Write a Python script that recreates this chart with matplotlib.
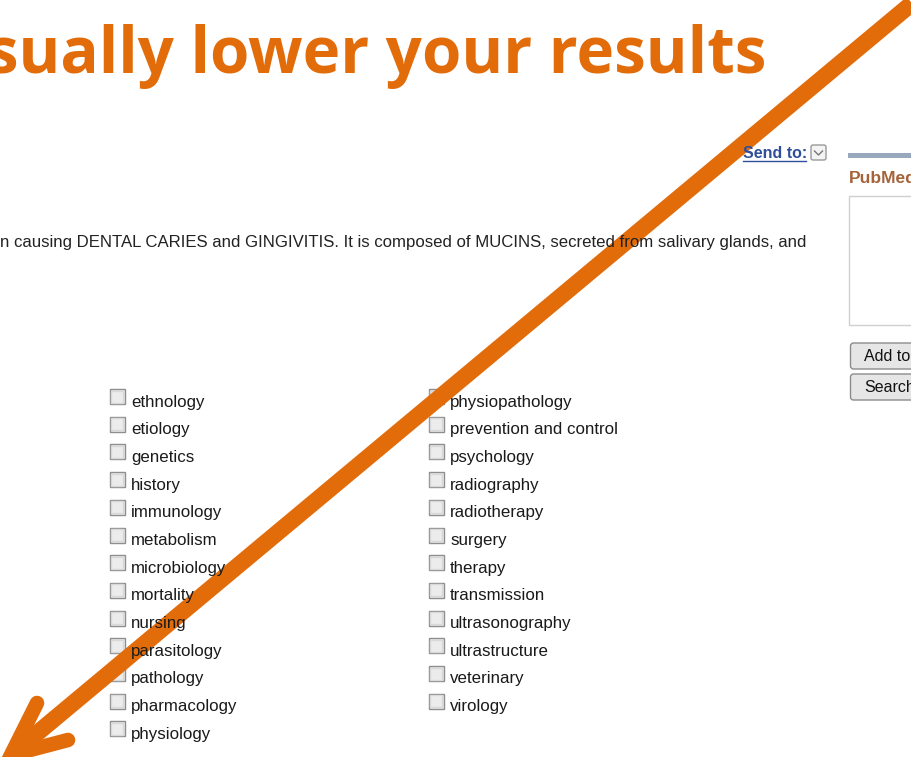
import matplotlib.pyplot as plt
from matplotlib.patches import Rectangle, FancyBboxPatch

title = "usually lower your results"
paragraph = ("n causing DENTAL CARIES and GINGIVITIS. It is composed of MUCINS, "
             "secreted from salivary glands, and")
left_terms = ["ethnology", "etiology", "genetics", "history", "immunology",
              "metabolism", "microbiology", "mortality", "nursing",
              "parasitology", "pathology", "pharmacology", "physiology"]
right_terms = ["physiopathology", "prevention and control", "psychology",
               "radiography", "radiotherapy", "surgery", "therapy",
               "transmission", "ultrasonography", "ultrastructure",
               "veterinary", "virology"]
buttons = ["Add to", "Search"]

orange = "#E36C0A"

fig = plt.figure(figsize=(9.12, 7.57), dpi=100)
ax = fig.add_axes([0, 0, 1, 1])
ax.set_xlim(0, 912)
ax.set_ylim(757, 0)
ax.axis("off")

# headline, first letter runs off the left edge
ax.text(766, 73, title, fontsize=45.8, fontweight="bold", family="Open Sans",
        color=orange, va="baseline", ha="right")

# Send to link
ax.text(743, 158, "Send to:", fontsize=11.5, fontweight="bold",
        family="Liberation Sans", color="#2F4F9A", va="baseline")
ax.plot([743, 806], [161, 161], color="#2F4F9A", lw=1)
ax.add_patch(FancyBboxPatch((811, 145), 15, 15, boxstyle="round,pad=0,rounding_size=2",
                            fc="#f4f4f4", ec="#9a9a9a", lw=1))
ax.plot([814.5, 818.5, 822.5], [151, 155, 151], color="#777777", lw=1)

# abstract line
ax.text(0, 247, paragraph, fontsize=12.1, family="Liberation Sans",
        color="#222222", va="baseline")

# right sidebar
ax.add_patch(Rectangle((848, 153), 70, 5, color="#98A9BD", lw=0))
ax.text(849, 183, "PubMed", fontsize=12.5, fontweight="bold",
        family="Liberation Sans", color="#A5633A", va="baseline")
ax.add_patch(Rectangle((849.5, 195.5), 80, 129, fc="white", ec="#d0d0d0", lw=1))
for i, b in enumerate(buttons):
    y0 = 343 + i * 31
    ax.add_patch(FancyBboxPatch((850.5, y0), 80, 26,
                                boxstyle="round,pad=0,rounding_size=3",
                                fc="#e6e6e6", ec="#8c8c8c", lw=1))
    ax.text(864, y0 + 18, b, fontsize=11.5, family="Liberation Sans",
            color="#111111", va="baseline")

# subheading check list
row0, step = 400, 27.7
for terms, bx in [(left_terms, 110), (right_terms, 429)]:
    for i, t in enumerate(terms):
        y = row0 + i * step
        ax.add_patch(Rectangle((bx, y - 11), 15, 15, fc="#ececec",
                               ec="#8e8e8e", lw=1))
        ax.add_patch(Rectangle((bx + 1.5, y - 9.5), 12, 12, fc="none",
                               ec="#d8d8d8", lw=1))
        ax.text(bx + 21, y + 6.5, t, fontsize=12.2, family="Liberation Sans",
                color="#1a1a1a", va="baseline")

# big orange arrow
tip = (11, 755)
ax.plot([928, tip[0] + 6], [-10, tip[1] - 5], color=orange, lw=12,
        solid_capstyle="butt")
ax.plot([37, tip[0], 68], [703, tip[1], 740], color=orange, lw=10.5,
        solid_capstyle="round", solid_joinstyle="miter")

fig.savefig("out.png", dpi=100)
